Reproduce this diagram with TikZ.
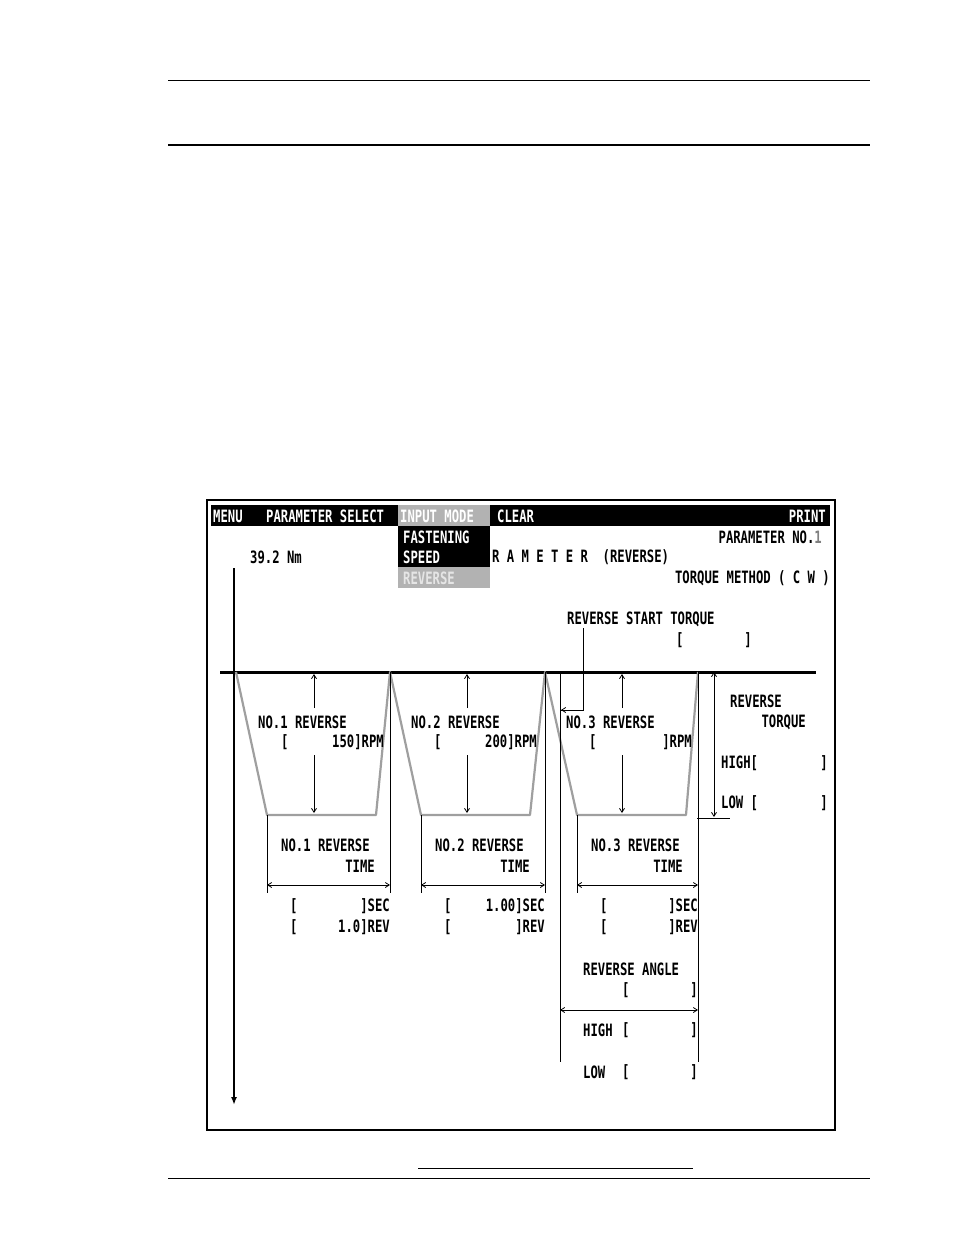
\documentclass[tikz,border=0pt]{standalone}
\usepackage{fontspec}
\newfontfamily\scr[FakeStretch=0.72]{DejaVu Sans Mono}
\usetikzlibrary{arrows.meta}
\tikzset{
  txt/.style={anchor=west,inner sep=0pt,font=\scr\bfseries\fontsize{17}{17}\selectfont},
  rtxt/.style={txt,anchor=east},
  dim/.style={line width=0.8pt,-{Straight Barb[length=4pt,width=5pt]}},
  ddim/.style={line width=0.8pt,{Straight Barb[length=4pt,width=5pt]}-{Straight Barb[length=4pt,width=5pt]}},
  ramp/.style={gray!75,line width=2.2pt,line join=round},
}
\begin{document}
\begin{tikzpicture}[x=1pt,y=-1pt]
  \useasboundingbox (0,0) rectangle (954,1235);
  % page rules
  \draw[line width=0.8pt] (168,80) -- (870,80);
  \draw[line width=1.6pt] (168,145) -- (870,145);
  \draw[line width=0.8pt] (418,1168) -- (693,1168);
  \draw[line width=0.8pt] (168,1178) -- (870,1178);

  % screen
  \draw[line width=1.2pt] (207,500) rectangle (835,1130);
  \fill[black] (211,505) rectangle (830,526);
  \fill[gray!60] (398,505) rectangle (490,526);
  \fill[black] (398,526) rectangle (490,567);
  \fill[gray!60] (398,567) rectangle (490,588);
  \node[txt,white] (menu) at (213,516) {MENU};
  \node[txt,white] (psel) at (266,516) {PARAMETER SELECT};
  \node[txt,white] (imode) at (400,516) {INPUT MODE};
  \node[txt,white] (clear) at (497,516) {CLEAR};
  \node[rtxt,white] (print) at (826,516) {PRINT};
  \node[txt,white] (fasten) at (403,537) {FASTENING};
  \node[txt,white] (speed) at (403,557) {SPEED};
  \node[txt,gray!20] (rev) at (403,578) {REVERSE};
  \node[rtxt] (parno) at (822,537) {PARAMETER NO.\textcolor{gray}{1}};
  \node[txt] (nm) at (250,557) {39.2 Nm};
  \node[txt] (title) at (492,557) {R A M E T E R\ \ (REVERSE)};
  \node[rtxt] (method) at (830,578) {TORQUE METHOD ( C W )};

  % axes
  \draw[line width=2pt,-{Latex[length=8pt,width=6pt]}] (234,568) -- (234,1105);
  \draw[line width=3pt] (220,672) -- (816,672);

  % reverse start torque
  \node[txt] (rst) at (567,619) {REVERSE START TORQUE};
  \node[txt] (rstl) at (676,640) {[};
  \node[rtxt] (rstr) at (752,640) {]};
  \draw[line width=0.8pt] (583,628) -- (583,710) -- (561,710);
  \draw[dim] (575,710) -- (561,710);

  % ramps
  \draw[ramp] (236,672) -- (267,815) -- (376,815) -- (390,672)
              -- (421,815) -- (530,815) -- (545,672)
              -- (577,815) -- (686,815) -- (698,672);

  % reverse speed labels
  \foreach \n/\x/\v in {1/314/150, 2/467/200, 3/622/{}} {
    \node[txt] (spd\n) at (\x-56,722) {NO.\n\ REVERSE};
    \node[txt] (spdl\n) at (\x-33,742) {[};
    \node[rtxt] (spdr\n) at (\x+70,742) {\v]RPM};
    \draw[dim] (\x,708) -- (\x,674);
    \draw[dim] (\x,755) -- (\x,813);
  }

  % reverse time
  \foreach \n/\a/\b/\s/\r in {1/267/390/{}/1.0, 2/421/545/1.00/{}, 3/577/698/{}/{}} {
    \draw[line width=0.8pt] (\a,815) -- (\a,893);
    \draw[line width=0.8pt] (\b,672) -- (\b,893);
    \draw[ddim] (\a,885) -- (\b,885);
    \node[txt] (tm\n) at (\a+14,845) {NO.\n\ REVERSE};
    \node[rtxt] (tt\n) at (\b-15,866) {TIME};
    \node[txt] (secl\n) at (\a+23,906) {[};
    \node[rtxt] (secr\n) at (\b,906) {\s]SEC};
    \node[txt] (revl\n) at (\a+23,927) {[};
    \node[rtxt] (revr\n) at (\b,927) {\r]REV};
  }

  % reverse angle
  \draw[line width=0.8pt] (560,672) -- (560,1062);
  \draw[line width=0.8pt] (698,893) -- (698,1062);
  \draw[ddim] (560,1010) -- (698,1010);
  \node[txt] (ang) at (583,969) {REVERSE ANGLE};
  \node[txt] (angl) at (622,990) {[};
  \node[rtxt] (angr) at (698,990) {]};
  \node[txt] (ahigh) at (583,1030) {HIGH};
  \node[txt] (ahighl) at (622,1030) {[};
  \node[rtxt] (ahighr) at (698,1030) {]};
  \node[txt] (alow) at (583,1072) {LOW};
  \node[txt] (alowl) at (622,1072) {[};
  \node[rtxt] (alowr) at (698,1072) {]};

  % reverse torque
  \draw[ddim] (714,672) -- (714,817);
  \draw[line width=0.8pt] (697,818) -- (730,818);
  \node[txt] (rt1) at (730,701) {REVERSE};
  \node[rtxt] (rt2) at (806,722) {TORQUE};
  \node[txt] (thigh) at (721,763) {HIGH[};
  \node[rtxt] (thighr) at (828,763) {]};
  \node[txt] (tlow) at (721,803) {LOW [};
  \node[rtxt] (tlowr) at (828,803) {]};
\end{tikzpicture}
\end{document}
